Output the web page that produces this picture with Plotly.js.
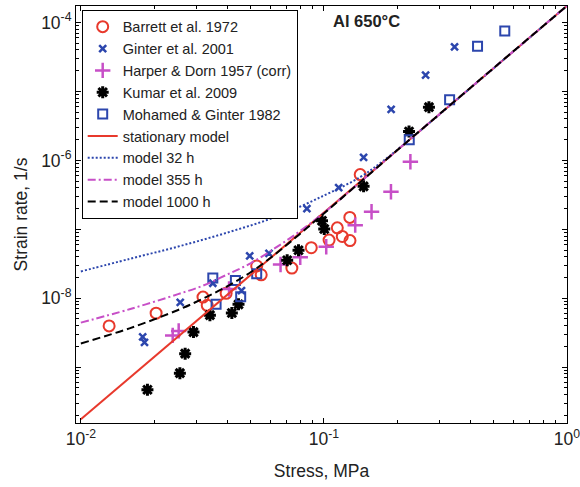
<!DOCTYPE html>
<html>
<head>
<meta charset="utf-8">
<script src="https://cdn.plot.ly/plotly-3.0.1.min.js"></script>
<style>html,body{margin:0;padding:0;background:#fff;}#chart{width:580px;height:487px;}</style>
</head>
<body>
<div id="chart"></div>
<script>
// ---- data (stress in MPa, strain rate in 1/s) ----
const barrettX = [0.01307, 0.0204, 0.0318, 0.0331, 0.0396, 0.0529, 0.0552, 0.0738, 0.0887, 0.105, 0.1135, 0.119, 0.128, 0.1278, 0.141];
const barrettY = [3.97e-9, 6.07e-9, 1.04e-8, 7.9e-9, 1.18e-8, 2.94e-8, 2.19e-8, 2.74e-8, 5.41e-8, 6.97e-8, 1.05e-7, 7.88e-8, 6.87e-8, 1.49e-7, 6.22e-7];

const ginterX = [0.01796, 0.01827, 0.02563, 0.0349, 0.0458, 0.0495, 0.0594, 0.0851, 0.115, 0.1456, 0.189, 0.262, 0.3446];
const ginterY = [2.75e-9, 2.29e-9, 8.71e-9, 1.65e-8, 1.29e-8, 4.11e-8, 4.48e-8, 1.99e-7, 4.04e-7, 1.11e-6, 5.51e-6, 1.72e-5, 4.43e-5];

const harperX = [0.02387, 0.02526, 0.0407, 0.0663, 0.0799, 0.1022, 0.1345, 0.157, 0.1887, 0.2268];
const harperY = [2.89e-9, 3.36e-9, 1.36e-8, 3.09e-8, 3.93e-8, 5.58e-8, 1.15e-7, 1.8e-7, 3.51e-7, 9.55e-7];

const kumarX = [0.01879, 0.02555, 0.02686, 0.02906, 0.03396, 0.0418, 0.04452, 0.0706, 0.0786, 0.0982, 0.1003, 0.1456, 0.2239, 0.2704];
const kumarY = [4.7e-10, 8.18e-10, 1.57e-9, 3.23e-9, 5.68e-9, 6.1e-9, 8.15e-9, 3.56e-8, 4.98e-8, 1.33e-7, 1.01e-7, 4.2e-7, 2.63e-6, 5.92e-6];

const mohamedX = [0.0349, 0.0360, 0.04323, 0.04545, 0.0529, 0.2244, 0.3289, 0.4285, 0.5546];
const mohamedY = [1.97e-8, 8.15e-9, 1.81e-8, 1.05e-8, 2.26e-8, 2.0e-6, 7.6e-6, 4.54e-5, 7.55e-5];

const statX = [0.01, 0.02, 0.05, 0.1, 0.2, 0.5, 1];
const statY = [1.75e-10, 1.4e-9, 2.2e-8, 1.75e-7, 1.4e-6, 2.2e-5, 1.75e-4];

const m32X = [0.01, 0.01585, 0.02512, 0.03981, 0.0631, 0.1, 0.1413, 0.1778, 0.2512, 0.398, 0.631, 1];
const m32Y = [2.45e-8, 3.72e-8, 5.62e-8, 8.91e-8, 1.51e-7, 3.09e-7, 5.75e-7, 1.02e-6, 2.77e-6, 1.1e-5, 4.39e-5, 1.75e-4];

const m355X = [0.01, 0.01585, 0.02512, 0.03162, 0.03981, 0.05012, 0.0631, 0.07943, 0.1, 0.2, 0.5, 1];
const m355Y = [4.43e-9, 6.92e-9, 1.148e-8, 1.51e-8, 2.19e-8, 3.24e-8, 5.37e-8, 9.33e-8, 1.74e-7, 1.4e-6, 2.2e-5, 1.75e-4];

const m1000X = [0.01, 0.01585, 0.02512, 0.03162, 0.03981, 0.05012, 0.0631, 0.07943, 0.1, 0.2, 0.5, 1];
const m1000Y = [2.21e-9, 3.66e-9, 6.76e-9, 9.77e-9, 1.48e-8, 2.4e-8, 4.37e-8, 8.51e-8, 1.7e-7, 1.4e-6, 2.2e-5, 1.75e-4];

const xTickVals = [0.01, 0.1, 1];
const xTickText = ['10<sup>-2</sup>', '10<sup>-1</sup>', '10<sup>0</sup>'];
const yTickVals = [1e-9, 1e-8, 1e-7, 1e-6, 1e-5, 1e-4];
const yTickText = ['', '10<sup>-8</sup>', '', '10<sup>-6</sup>', '', '10<sup>-4</sup>'];

// minor ticks (2..9 in each decade)
function minorTicks(lo, hi) {
  const out = [];
  for (let e = lo; e <= hi; e++) for (let k = 2; k <= 9; k++) out.push(k * Math.pow(10, e));
  return out;
}

const RED = '#e8392c', BLUE = '#2c46ad', MAG = '#c74fc7';

const traces = [
  {x: barrettX, y: barrettY, mode: 'markers', name: 'Barrett et al. 1972',
   marker: {symbol: 'circle-open', size: 11, color: RED, line: {width: 2, color: RED}}},
  {x: ginterX, y: ginterY, mode: 'markers', name: 'Ginter et al. 2001',
   marker: {symbol: 'x-thin-open', size: 7, color: BLUE, line: {width: 2.5, color: BLUE}}},
  {x: harperX, y: harperY, mode: 'markers', name: 'Harper &amp; Dorn 1957 (corr)',
   marker: {symbol: 'cross-thin-open', size: 11, color: MAG, line: {width: 2.5, color: MAG}}},
  {x: kumarX, y: kumarY, mode: 'markers', name: 'Kumar et al. 2009',
   marker: {symbol: 'asterisk-open', size: 10, color: '#000', line: {width: 3, color: '#000'}}},
  {x: mohamedX, y: mohamedY, mode: 'markers', name: 'Mohamed &amp; Ginter 1982',
   marker: {symbol: 'square-open', size: 9, color: BLUE, line: {width: 2, color: BLUE}}},
  {x: statX, y: statY, mode: 'lines', name: 'stationary model',
   line: {color: RED, width: 2}},
  {x: m32X, y: m32Y, mode: 'lines', name: 'model 32 h', line: {shape: 'spline', color: BLUE, width: 2, dash: '2px,2px'}},
  {x: m355X, y: m355Y, mode: 'lines', name: 'model 355 h', line: {shape: 'spline', color: MAG, width: 2, dash: '8px,3px,2px,3px'}},
  {x: m1000X, y: m1000Y, mode: 'lines', name: 'model 1000 h', line: {shape: 'spline', color: '#000', width: 2, dash: '8px,4px'}}
];

const FONT = 'Arial, "Liberation Sans", sans-serif';

const layout = {
  width: 580, height: 487,
  margin: {l: 76, r: 13, t: 6, b: 64},
  paper_bgcolor: '#fff', plot_bgcolor: '#fff',
  font: {family: FONT, size: 17, color: '#222'},
  showlegend: true,
  legend: {
    x: 0.0116, y: 0.991, xanchor: 'left', yanchor: 'top',
    bgcolor: '#fff', bordercolor: '#000', borderwidth: 1,
    font: {family: FONT, size: 14.5, color: '#222'},
    itemwidth: 30
  },
  xaxis: {
    type: 'log', range: [-2.02, 0], showgrid: false, zeroline: false,
    showline: true, linecolor: '#000', linewidth: 1, mirror: 'ticks',
    ticks: 'inside', ticklen: 5, tickcolor: '#000',
    tickmode: 'array', tickvals: xTickVals, ticktext: xTickText,
    tickfont: {size: 17.5, color: '#222'}, ticklabeloverflow: 'allow',
    minor: {ticks: 'inside', ticklen: 3, tickcolor: '#000', tickmode: 'array', tickvals: minorTicks(-2, -1), showgrid: false},
    title: {text: 'Stress, MPa', font: {size: 17.5, color: '#222'}, standoff: 16}
  },
  yaxis: {
    type: 'log', range: [-9.81, -3.76], showgrid: false, zeroline: false,
    showline: true, linecolor: '#000', linewidth: 1, mirror: 'ticks',
    ticks: 'inside', ticklen: 5, tickcolor: '#000',
    tickmode: 'array', tickvals: yTickVals, ticktext: yTickText,
    tickfont: {size: 17.5, color: '#222'}, ticklabeloverflow: 'allow',
    minor: {ticks: 'inside', ticklen: 3, tickcolor: '#000', tickmode: 'array', tickvals: minorTicks(-10, -4), showgrid: false},
    title: {text: 'Strain rate, 1/s', font: {size: 17.5, color: '#222'}, standoff: 9}
  },
  annotations: [{
    xref: 'paper', yref: 'paper', x: 0.52, y: 0.963, xanchor: 'left', yanchor: 'middle',
    text: '<b>Al 650°C</b>', showarrow: false, font: {size: 16.5, color: '#222', family: FONT}
  }]
};

Plotly.newPlot('chart', traces, layout, {displayModeBar: false, staticPlot: true});
</script>
</body>
</html>
